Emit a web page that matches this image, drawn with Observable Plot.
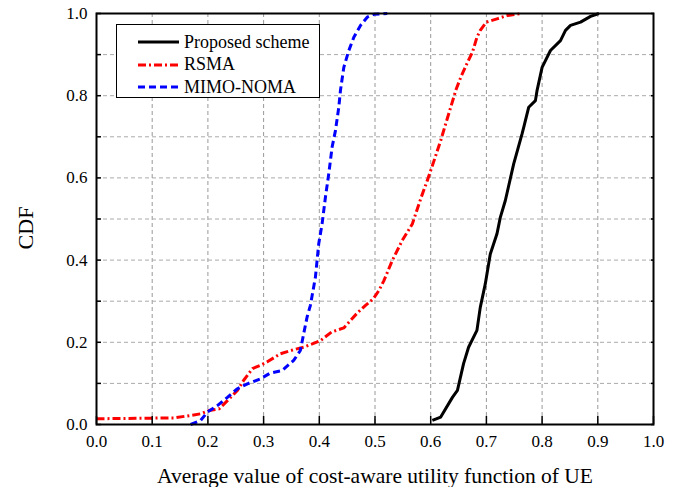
<!DOCTYPE html>
<html><head><meta charset="utf-8">
<script src="https://cdn.jsdelivr.net/npm/d3@7"></script>
<script src="https://cdn.jsdelivr.net/npm/@observablehq/plot@0.6"></script>
<style>
body{margin:0;background:#fff;}
#wrap{position:relative;width:678px;height:487px;}
#legend{position:absolute;left:116px;top:24px;width:204px;height:74px;border:1.5px solid #000;background:#fff;box-sizing:border-box;font-family:"Liberation Serif",serif;font-size:18px;color:#000;padding-top:6px;}
.row{display:flex;align-items:center;height:22.5px;}
.row svg{margin-left:21px;margin-right:5px;}
</style>
</head><body>
<div id="wrap"></div>
<script>
// Proposed scheme
const proposedX = [0.603,0.618,0.639,0.648,0.659,0.668,0.683,0.689,0.698,0.707,0.719,0.725,0.734,0.749,0.764,0.767,0.776,0.788,0.791,0.800,0.815,0.833,0.842,0.851,0.869,0.887,0.902];
const proposedY = [0.010,0.018,0.066,0.083,0.148,0.188,0.229,0.285,0.342,0.415,0.464,0.504,0.545,0.634,0.707,0.723,0.772,0.788,0.813,0.869,0.910,0.934,0.959,0.971,0.979,0.993,1.0];
// RSMA
const rsmaX = [0,0.139,0.169,0.187,0.202,0.220,0.235,0.253,0.264,0.280,0.294,0.306,0.330,0.354,0.372,0.402,0.422,0.444,0.456,0.468,0.483,0.497,0.507,0.516,0.531,0.549,0.567,0.583,0.594,0.606,0.618,0.627,0.636,0.645,0.654,0.666,0.675,0.683,0.689,0.700,0.719,0.737,0.764];
const rsmaY = [0.014,0.016,0.022,0.026,0.034,0.038,0.058,0.083,0.107,0.136,0.144,0.152,0.172,0.182,0.188,0.204,0.225,0.235,0.253,0.271,0.290,0.306,0.326,0.350,0.399,0.448,0.488,0.553,0.594,0.642,0.691,0.732,0.772,0.813,0.845,0.881,0.906,0.942,0.959,0.979,0.987,0.995,1.0];
// MIMO-NOMA
const nomaX = [0.169,0.187,0.199,0.217,0.235,0.253,0.271,0.294,0.312,0.333,0.354,0.366,0.372,0.378,0.384,0.393,0.399,0.405,0.411,0.417,0.423,0.429,0.435,0.438,0.444,0.453,0.462,0.474,0.486,0.498,0.522];
const nomaY = [0,0.010,0.030,0.046,0.066,0.087,0.099,0.111,0.125,0.131,0.156,0.180,0.221,0.261,0.290,0.358,0.440,0.488,0.553,0.610,0.675,0.715,0.772,0.813,0.869,0.910,0.942,0.971,0.991,0.998,1.0];

const seriesNames = ["Proposed scheme","RSMA","MIMO-NOMA"];
const xTicks = [0,0.1,0.2,0.3,0.4,0.5,0.6,0.7,0.8,0.9,1.0];
const yTicks = [0,0.1,0.2,0.3,0.4,0.5,0.6,0.7,0.8,0.9,1.0];
const gridTicks = [0.1,0.2,0.3,0.4,0.5,0.6,0.7,0.8,0.9];
const xTitle = "Average value of cost-aware utility function of UE";
const yTitle = "CDF";

const toRows = (xs, ys) => xs.map((x, i) => ({x, y: ys[i]}));
const styles = [
  {stroke:"#000000", dash:null},
  {stroke:"#ff0000", dash:"8,3,2,3"},
  {stroke:"#0000ff", dash:"7,4"}
];
const data = [toRows(proposedX, proposedY), toRows(rsmaX, rsmaY), toRows(nomaX, nomaY)];

const plot = Plot.plot({
  width: 678, height: 487,
  marginLeft: 96, marginRight: 25, marginTop: 13, marginBottom: 63,
  style: {fontFamily: "'Liberation Serif', serif", fontSize: "17px", color: "#000", background: "#fff"},
  x: {domain: [0, 1]},
  y: {domain: [0, 1]},
  marks: [
    Plot.gridX(gridTicks, {stroke: "#999", strokeOpacity: 1, strokeDasharray: "4,3"}),
    Plot.gridY(gridTicks, {stroke: "#aaa", strokeOpacity: 1, strokeDasharray: "4,3"}),
    ...data.map((d, i) => Plot.line(d, {x: "x", y: "y", stroke: styles[i].stroke, strokeWidth: 3, strokeDasharray: styles[i].dash, strokeLinecap: "butt", strokeLinejoin: "round"})),
    Plot.frame({stroke: "#000", strokeWidth: 2}),
    Plot.axisX(xTicks, {anchor: "bottom", tickSize: -8, tickPadding: 18, tickFormat: d => d.toFixed(1), label: null, strokeWidth: 1.5}),
    Plot.axisY(yTicks, {anchor: "left", tickSize: -5, tickPadding: 14, tickFormat: d => (Math.round(d * 10) % 2 === 0 ? d.toFixed(1) : ""), label: null, strokeWidth: 1.5}),
    Plot.axisY(yTicks, {anchor: "right", tickSize: -3, tickFormat: () => "", label: null, strokeWidth: 1.5}),
    Plot.text([xTitle], {frameAnchor: "bottom", lineAnchor: "bottom", textAnchor: "middle", dy: 58, fontSize: 21.5, text: d => d}),
    Plot.text([yTitle], {frameAnchor: "left", textAnchor: "middle", lineAnchor: "middle", dx: -71, dy: 9, rotate: -90, fontSize: 22, text: d => d})
  ]
});
const wrap = document.getElementById("wrap");
wrap.appendChild(plot);

const legend = document.createElement("div");
legend.id = "legend";
seriesNames.forEach((name, i) => {
  const row = document.createElement("div");
  row.className = "row";
  const dash = styles[i].dash ? `stroke-dasharray="${styles[i].dash}"` : "";
  row.innerHTML = `<svg width="41" height="6"><line x1="0" y1="3" x2="41" y2="3" stroke="${styles[i].stroke}" stroke-width="3" ${dash}/></svg><span>${name}</span>`;
  legend.appendChild(row);
});
wrap.appendChild(legend);
</script>
</body></html>
